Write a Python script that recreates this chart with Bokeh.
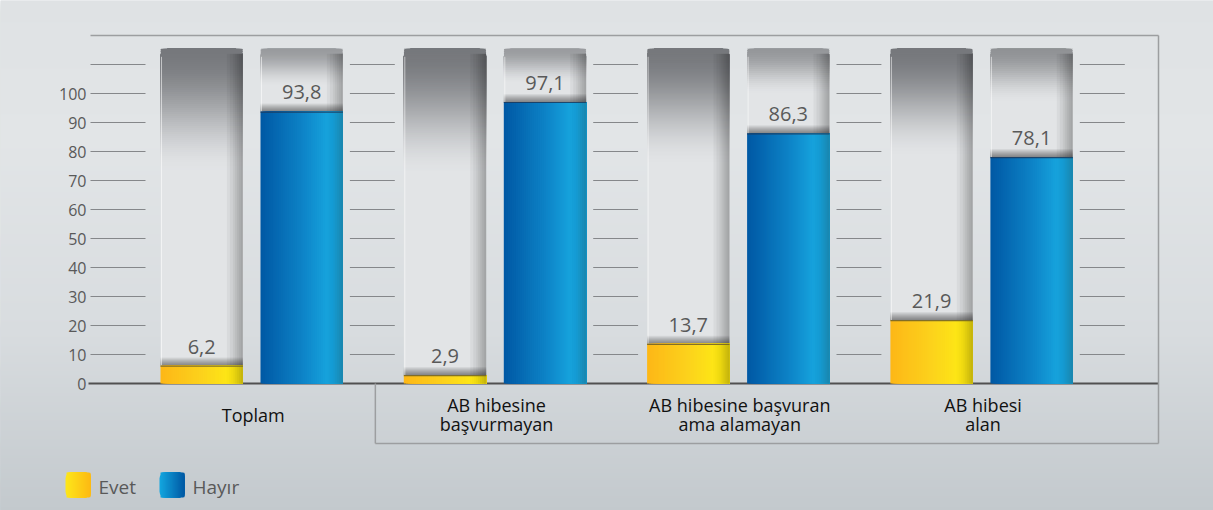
import math
from bokeh.plotting import figure
from bokeh.models import Range1d, ColumnDataSource
from bokeh.core.properties import value
from bokeh.embed import file_html
from bokeh.resources import INLINE

# ---------------- data ----------------
categories = ["Toplam", "AB hibesine\nbaşvurmayan", "AB hibesine başvuran\nama alamayan", "AB hibesi\nalan"]
series_names = ["Evet", "Hayır"]
evet = [6.2, 2.9, 13.7, 21.9]
hayir = [93.8, 97.1, 86.3, 78.1]
y_tick_values = [0, 10, 20, 30, 40, 50, 60, 70, 80, 90, 100]
grid_values = [10, 20, 30, 40, 50, 60, 70, 80, 90, 100, 110]
frame_top_value = 120

# ---------------- layout helpers (page pixels) ----------------
W, H = 1213, 510
PX_PER_CAT = 243.3
CAT0_PX = 251.2
ZERO_PX = 383.0
PX_PER_UNIT = 2.9
TXT = 7.0  # text baseline correction (px, upward)


def X(px):
    return (px - CAT0_PX) / PX_PER_CAT


def Y(py):
    return (ZERO_PX - py) / PX_PER_UNIT


def DX(px):
    return px / PX_PER_CAT


def DY(px):
    return px / PX_PER_UNIT


def hx(c):
    return tuple(int(c[i:i + 2], 16) for i in (1, 3, 5))


def mix(a, b, t):
    a, b = hx(a), hx(b)
    t = max(0.0, min(1.0, t))
    return "#%02x%02x%02x" % tuple(int(round(a[i] + (b[i] - a[i]) * t)) for i in range(3))


def grad(stops, t):
    t = max(0.0, min(1.0, t))
    for (p0, c0), (p1, c1) in zip(stops[:-1], stops[1:]):
        if t <= p1:
            return mix(c0, c1, (t - p0) / (p1 - p0) if p1 > p0 else 0)
    return stops[-1][1]


def smooth(t):
    t = max(0.0, min(1.0, t))
    return t * t * (3 - 2 * t)


FONT = value("Open Sans")

p = figure(width=W, height=H,
           x_range=Range1d(X(0), X(W)), y_range=Range1d(Y(H), Y(0)),
           output_backend="svg", toolbar_location=None,
           x_axis_type=None, y_axis_type=None, min_border=0)
p.outline_line_color = None
p.background_fill_color = "#dadee1"
p.border_fill_color = "#dadee1"

# ---------------- background gradient ----------------
bg_stops = [(0.0, "#dfe2e4"), (0.27, "#e2e5e7"), (0.65, "#d8dcdf"), (1.0, "#c3c9cd")]
bg = dict(left=[], right=[], top=[], bottom=[], color=[])
for py in range(0, H, 2):
    bg["left"].append(X(0))
    bg["right"].append(X(W))
    bg["top"].append(Y(py))
    bg["bottom"].append(Y(H))
    bg["color"].append(grad(bg_stops, (py + 1) / H))
p.quad(source=ColumnDataSource(bg), left="left", right="right", top="top", bottom="bottom",
       fill_color="color", line_color=None)

# ---------------- bar geometry ----------------
BAR_OFF = DX(50)
HW = DX(41.2)
CAP_TOP = Y(48.3)
LIGHT = "#e2e4e6"

fill_stops = {
    "Evet": [(0.0, "#fdb717"), (0.5, "#fcd21c"), (0.8, "#fde516"), (0.88, "#efd910"), (1.0, "#c2b20c")],
    "Hayır": [(0.0, "#0058a4"), (0.5, "#0d82c6"), (0.8, "#16a2dc"), (0.88, "#149bd3"), (1.0, "#1a86ad")],
}
top_line_col = {"Evet": "#6b5e2a", "Hayır": "#1d3a5c"}

bars = []
for s, vals in zip(series_names, [evet, hayir]):
    sign = -1 if s == "Evet" else 1
    for i, v in enumerate(vals):
        c = i + sign * BAR_OFF
        bars.append((s, i, v, c - HW, c + HW, c))

# zero axis line (under bars)
p.segment(x0=[X(88)], y0=[0], x1=[X(1158)], y1=[0], line_color="#505050", line_width=2)

# capsule (empty part): light lower part + nested rounded gradient quads on top
low = dict(left=[], right=[], top=[], bottom=[])
cap = dict(left=[], right=[], top=[], bottom=[], color=[])
step = DY(2)
for s, i, v, l, r, c in bars:
    empty = CAP_TOP - v
    d = min(0.34 * empty + 6, empty)
    f = 1 - max(0.0, min(1.0, (empty - 20) / 60))
    top_col = mix("#76787c", "#9a9c9f", f)
    low["left"].append(l); low["right"].append(r)
    low["bottom"].append(v); low["top"].append(CAP_TOP - d + step)
    n = int(math.ceil(d / step))
    for k in range(n):
        b = CAP_TOP - d + k * step
        smid = CAP_TOP - (b + step / 2)
        cap["left"].append(l); cap["right"].append(r)
        cap["top"].append(CAP_TOP); cap["bottom"].append(b)
        cap["color"].append(mix(top_col, LIGHT, smooth(smid / d)))
p.quad(source=ColumnDataSource(low), left="left", right="right", top="top", bottom="bottom",
       fill_color=LIGHT, line_color=None)
p.quad(source=ColumnDataSource(cap), left="left", right="right", top="top", bottom="bottom",
       fill_color="color", line_color=None, border_radius=(8, 8, 0, 0))

# shadow above fill and right-edge shading
ov = dict(left=[], right=[], top=[], bottom=[])
for s, i, v, l, r, c in bars:
    for h in range(1, 9):
        ov["left"].append(l); ov["right"].append(r)
        ov["bottom"].append(v); ov["top"].append(v + DY(h))
p.quad(source=ColumnDataSource(ov), left="left", right="right", top="top", bottom="bottom",
       fill_color="black", fill_alpha=0.06, line_color=None)

rs = dict(left=[], right=[], top=[], bottom=[])
for s, i, v, l, r, c in bars:
    for j in (16, 13, 10, 8, 6, 4, 2):
        rs["left"].append(r - DX(j)); rs["right"].append(r)
        rs["bottom"].append(v); rs["top"].append(CAP_TOP - DY(5))
p.quad(source=ColumnDataSource(rs), left="left", right="right", top="top", bottom="bottom",
       fill_color="black", fill_alpha=0.045, line_color=None)

p.segment(x0=[b[3] + DX(1) for b in bars], y0=[b[2] for b in bars],
          x1=[b[3] + DX(1) for b in bars], y1=[CAP_TOP - DY(8)] * len(bars),
          line_color="white", line_alpha=0.55, line_width=1)

# filled part with horizontal gradient, nested strips
fl = dict(left=[], right=[], top=[], bottom=[], color=[])
N = 41
for s, i, v, l, r, c in bars:
    w = (r - l) / N
    for j in range(N):
        fl["left"].append(l + j * w); fl["right"].append(r)
        fl["bottom"].append(0); fl["top"].append(v)
        fl["color"].append(grad(fill_stops[s], (j + 0.5) / N))
p.quad(source=ColumnDataSource(fl), left="left", right="right", top="top", bottom="bottom",
       fill_color="color", line_color=None)

tl = dict(left=[b[3] for b in bars], right=[b[4] for b in bars],
          top=[b[2] for b in bars], bottom=[b[2] - DY(1.2) for b in bars],
          color=[top_line_col[b[0]] for b in bars])
p.quad(source=ColumnDataSource(tl), left="left", right="right", top="top", bottom="bottom",
       fill_color="color", fill_alpha=0.85, line_color=None)

# value labels
p.text(x=[b[5] for b in bars], y=[b[2] + DY(12 + TXT) for b in bars],
       text=[("%.1f" % b[2]).replace(".", ",") for b in bars],
       text_font=FONT, text_font_size="20px", text_color="#595959",
       text_align="center", text_baseline="alphabetic")

# ---------------- grid segments ----------------
evet_left = [i - BAR_OFF - HW for i in range(len(categories))]
hayir_right = [i + BAR_OFF + HW for i in range(len(categories))]
seg_x = [(X(90), evet_left[0] - DX(15))]
for i in range(len(categories) - 1):
    seg_x.append((hayir_right[i] + DX(7), evet_left[i + 1] - DX(9)))
seg_x.append((hayir_right[-1] + DX(7), hayir_right[-1] + DX(52)))
gx0, gx1, gy = [], [], []
for gv in grid_values:
    for a, b in seg_x:
        gx0.append(a); gx1.append(b); gy.append(gv)
p.segment(x0=gx0, y0=gy, x1=gx1, y1=gy, line_color="#85878a", line_width=1.1)

# frame lines
RIGHT_X = X(1158)
BOX_Y = Y(443)
BOX_X = 0.5 + DX(2)
p.segment(x0=[X(90), RIGHT_X, BOX_X, BOX_X], y0=[frame_top_value, frame_top_value, 0, BOX_Y],
          x1=[RIGHT_X, RIGHT_X, BOX_X, RIGHT_X], y1=[frame_top_value, BOX_Y, BOX_Y, BOX_Y],
          line_color="#9c9ea0", line_width=1.5)

# ---------------- y tick labels ----------------
p.text(x=[X(86)] * len(y_tick_values), y=[t - DY(7.7 - TXT) for t in y_tick_values],
       text=[str(t) for t in y_tick_values], text_font=FONT, text_font_size="16px",
       text_color="#595959", text_align="right", text_baseline="alphabetic")

# ---------------- category labels ----------------
cx, cy, ct = [], [], []
for i, cat in enumerate(categories):
    lines = cat.split("\n")
    n = len(lines)
    for k, ln in enumerate(lines):
        base = 421 + (k - (n - 1) / 2) * 18.5 - TXT
        cx.append(i + DX(1.5)); cy.append(Y(base)); ct.append(ln)
p.text(x=cx, y=cy, text=ct, text_font=FONT, text_font_size="18px", text_color="#111111",
       text_align="center", text_baseline="alphabetic")

# ---------------- legend ----------------
leg_stops = {"Evet": [(0.0, "#fde71a"), (1.0, "#fdb913")],
             "Hayır": [(0.0, "#13a7e0"), (1.0, "#0058a3")]}
leg_px = {"Evet": 65, "Hayır": 159}
for s in series_names:
    x0 = leg_px[s]
    first = dict(left=[X(x0)], right=[X(x0 + 25)], top=[Y(472)], bottom=[Y(497)],
                 color=[grad(leg_stops[s], 0.02)])
    p.quad(source=ColumnDataSource(first), left="left", right="right", top="top", bottom="bottom",
           fill_color="color", line_color=None, border_radius=6)
    rest = dict(left=[], right=[], top=[], bottom=[], color=[])
    for j in range(1, 25):
        rest["left"].append(X(x0 + j)); rest["right"].append(X(x0 + 25))
        rest["top"].append(Y(472)); rest["bottom"].append(Y(497))
        rest["color"].append(grad(leg_stops[s], (j + 0.5) / 25))
    p.quad(source=ColumnDataSource(rest), left="left", right="right", top="top", bottom="bottom",
           fill_color="color", line_color=None, border_radius=(0, 6, 6, 0))
p.text(x=[X(leg_px[s] + 33) for s in series_names], y=[Y(493.3 - TXT)] * 2, text=series_names,
       text_font=FONT, text_font_size="19px", text_color="#595959",
       text_align="left", text_baseline="alphabetic")

open("out.html", "w").write(file_html(p, INLINE))
